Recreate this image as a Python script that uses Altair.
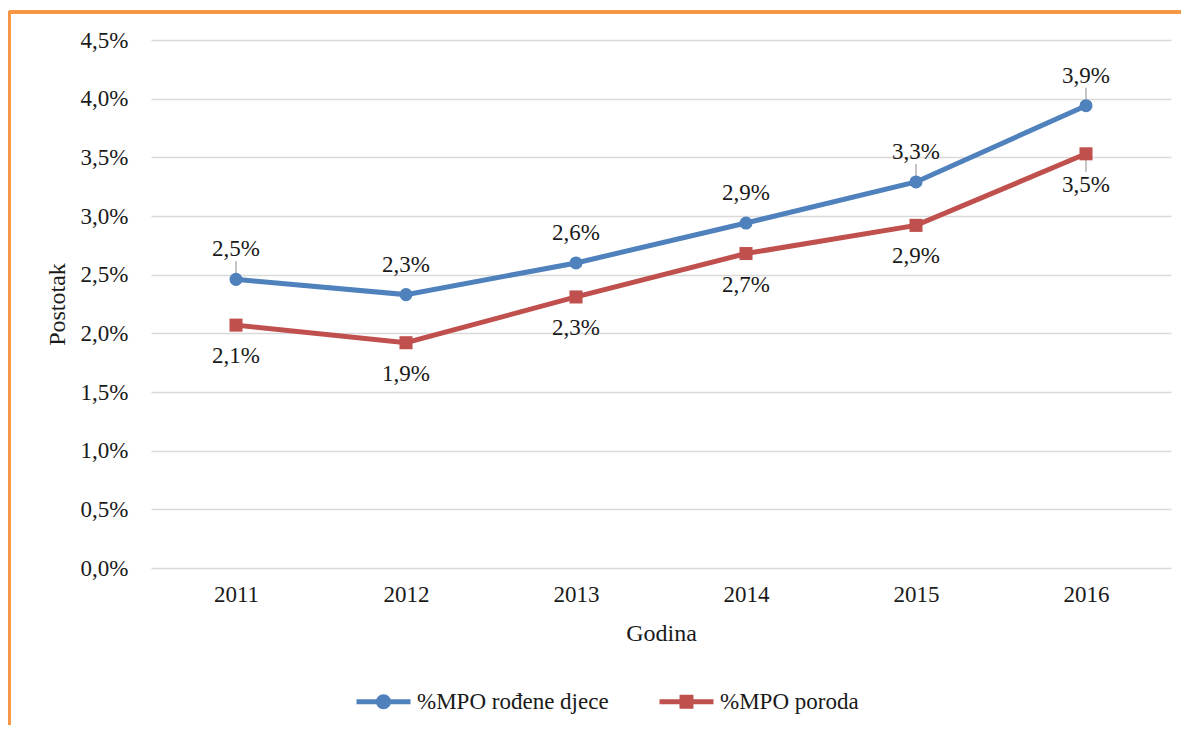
import altair as alt
import pandas as pd

years = ["2011", "2012", "2013", "2014", "2015", "2016"]
series_names = ["%MPO rođene djece", "%MPO poroda"]
mpo_djece = [2.46, 2.33, 2.60, 2.94, 3.29, 3.94]
mpo_poroda = [2.07, 1.92, 2.31, 2.68, 2.92, 3.53]
leader_djece = [True, False, False, False, True, True]
leader_poroda = [False, False, False, False, False, True]
y_ticks = [0, 0.5, 1.0, 1.5, 2.0, 2.5, 3.0, 3.5, 4.0, 4.5]
colors = ["#4F81BD", "#C0504D"]

rows = []
for vals, leads, name in [(mpo_djece, leader_djece, series_names[0]),
                          (mpo_poroda, leader_poroda, series_names[1])]:
    for yr, v, ld in zip(years, vals, leads):
        rows.append({"year": yr, "value": v, "series": name, "leader": ld})
df = pd.DataFrame(rows)

FONT = "Liberation Serif"
TXT = "#1a1a1a"
FS = 23
axis_style = dict(labelFont=FONT, labelFontSize=FS, labelColor=TXT,
                  titleFont=FONT, titleFontSize=24, titleColor=TXT, titleFontWeight="normal")

x_enc = alt.X("year:O", scale=alt.Scale(type="point", padding=0.5),
              axis=alt.Axis(title="Godina", labelAngle=0, domain=False, ticks=False,
                            tickSize=0, labelPadding=15, titlePadding=15, grid=False,
                            **axis_style))
y_enc = alt.Y("value:Q", scale=alt.Scale(domain=[0, 4.5], nice=False, zero=True),
              axis=alt.Axis(title="Postotak", values=y_ticks, domain=False, ticks=False,
                            tickSize=0, labelPadding=23, titlePadding=11,
                            labelExpr="replace(format(datum.value, '.1f'), '.', ',') + '%'",
                            gridColor="#D9D9D9", gridWidth=1.5, **axis_style))
color_scale = alt.Scale(domain=series_names, range=colors)
color_nolegend = alt.Color("series:N", scale=color_scale, legend=None)

base = alt.Chart(df).encode(x=x_enc, y=y_enc)

line = base.mark_line(strokeWidth=5).encode(color=color_nolegend)

leaders_b = base.transform_filter(
    f"datum.leader && datum.series == '{series_names[0]}'"
).mark_rule(color="#A6A6A6", strokeWidth=1.3, yOffset=-18, y2Offset=-4).encode(y2="value:Q")
leaders_r = base.transform_filter(
    f"datum.leader && datum.series == '{series_names[1]}'"
).mark_rule(color="#A6A6A6", strokeWidth=1.3, yOffset=4, y2Offset=18).encode(y2="value:Q")

pts_b = base.transform_filter(f"datum.series == '{series_names[0]}'").mark_point(
    shape="circle", filled=True, size=170, opacity=1).encode(color=color_nolegend)
pts_r = base.transform_filter(f"datum.series == '{series_names[1]}'").mark_point(
    shape="square", filled=True, size=170, opacity=1).encode(color=color_nolegend)

lab_b = base.transform_filter(f"datum.series == '{series_names[0]}'").mark_text(
    dy=-30, font=FONT, fontSize=FS, color=TXT).encode(
    text=alt.Text("label:N")).transform_calculate(
    label="replace(format(datum.value, '.1f'), '.', ',') + '%'")
lab_r = base.transform_filter(f"datum.series == '{series_names[1]}'").mark_text(
    dy=31, font=FONT, fontSize=FS, color=TXT).encode(
    text=alt.Text("label:N")).transform_calculate(
    label="replace(format(datum.value, '.1f'), '.', ',') + '%'")

circle_line = ("M-3.6,-0.33 L3.6,-0.33 L3.6,0.33 L-3.6,0.33 Z "
               "M1,0 A1,1 0 1,1 -1,0 A1,1 0 1,1 1,0 Z")
square_line = ("M-3.6,-0.33 L3.6,-0.33 L3.6,0.33 L-3.6,0.33 Z "
               "M-0.93,-0.93 L0.93,-0.93 L0.93,0.93 L-0.93,0.93 Z")

legend = alt.Legend(title=None, orient="none", direction="horizontal",
                    legendX=221, legendY=650, symbolSize=225, symbolStrokeWidth=0,
                    labelFont=FONT, labelFontSize=FS, labelColor=TXT, labelLimit=400,
                    labelOffset=22, columnPadding=50, symbolOpacity=1)
legend_layer = base.transform_filter("datum.value < 0").mark_point(
    filled=True, opacity=1).encode(
    color=alt.Color("series:N", scale=color_scale, legend=legend),
    shape=alt.Shape("series:N", scale=alt.Scale(domain=series_names,
                                                range=[circle_line, square_line]),
                    legend=legend))

frame_top = alt.Chart(df).mark_rule(color="#F79646", strokeWidth=2.5, clip=False).encode(
    x=alt.value(-142), x2=alt.value(1060), y=alt.value(-28))
frame_left = alt.Chart(df).mark_rule(color="#F79646", strokeWidth=2.5, clip=False).encode(
    x=alt.value(-142), y=alt.value(-29), y2=alt.value(720))

chart = alt.layer(
    legend_layer, line, leaders_b, leaders_r, pts_b, pts_r, lab_b, lab_r, frame_top, frame_left
).properties(
    width=1020, height=528,
    background="white",
    autosize=alt.AutoSizeParams(type="none"),
    padding={"left": 143, "top": 32, "right": 10, "bottom": 157},
).configure_view(stroke=None)

chart.save("out.html", embed_options={"renderer": "svg", "actions": False})
